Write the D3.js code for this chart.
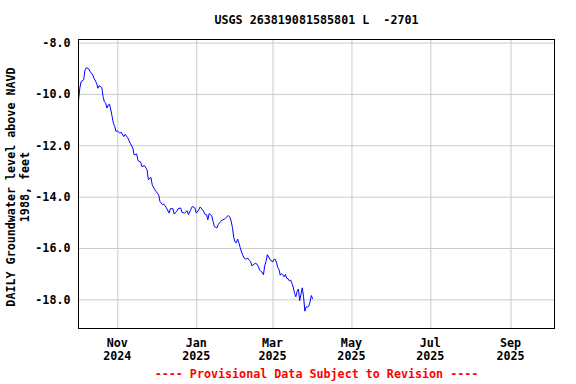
<!DOCTYPE html>
<html>
<head>
<meta charset="utf-8">
<script src="https://cdn.jsdelivr.net/npm/d3@7"></script>
<style>
  html, body { margin: 0; padding: 0; background: #fff; }
  svg { display: block; }
  text { font-family: "DejaVu Sans Mono", "Liberation Mono", monospace; font-weight: bold; white-space: pre; }
</style>
</head>
<body>
<svg id="chart" width="576" height="384"></svg>
<script>
const title = "USGS 263819081585801 L  -2701";
const yLabelLines = ["DAILY Groundwater level above NAVD", "1988, feet"];
const footer = "---- Provisional Data Subject to Revision ----";

const xDomain = ["2024-10-02", "2025-10-05"];
const yDomain = [-19.135, -7.88];
const yTicks = [-8, -10, -12, -14, -16, -18];
const xTicks = ["2024-11-01", "2025-01-01", "2025-03-01", "2025-05-01", "2025-07-01", "2025-09-01"];
const xTickMonths = ["Nov", "Jan", "Mar", "May", "Jul", "Sep"];
const xTickYears = ["2024", "2025", "2025", "2025", "2025", "2025"];

const dates = [
"2024-10-02","2024-10-03","2024-10-04","2024-10-06","2024-10-07","2024-10-08","2024-10-10","2024-10-11",
"2024-10-13","2024-10-14","2024-10-16","2024-10-17","2024-10-18","2024-10-20","2024-10-21","2024-10-22",
"2024-10-23","2024-10-24","2024-10-25","2024-10-26","2024-10-27","2024-10-28","2024-10-29","2024-10-30",
"2024-10-31","2024-11-01","2024-11-03","2024-11-04","2024-11-06","2024-11-07","2024-11-09","2024-11-11",
"2024-11-13","2024-11-14","2024-11-16","2024-11-17","2024-11-19","2024-11-20","2024-11-22","2024-11-24",
"2024-11-25","2024-11-27","2024-11-28","2024-11-30","2024-12-01","2024-12-03","2024-12-04","2024-12-06",
"2024-12-07","2024-12-09","2024-12-11","2024-12-12","2024-12-14","2024-12-15","2024-12-17","2024-12-18",
"2024-12-20","2024-12-21","2024-12-23","2024-12-25","2024-12-26","2024-12-28","2024-12-29","2024-12-31",
"2025-01-01","2025-01-03","2025-01-04","2025-01-06","2025-01-08","2025-01-09","2025-01-10","2025-01-11",
"2025-01-13","2025-01-14","2025-01-15","2025-01-17","2025-01-18","2025-01-20","2025-01-21","2025-01-23",
"2025-01-25","2025-01-26","2025-01-27","2025-01-28","2025-01-29","2025-01-30","2025-01-31","2025-02-01",
"2025-02-02","2025-02-03","2025-02-04","2025-02-05","2025-02-06","2025-02-07","2025-02-08","2025-02-09",
"2025-02-10","2025-02-11","2025-02-12","2025-02-13","2025-02-14","2025-02-15","2025-02-16","2025-02-17",
"2025-02-18","2025-02-19","2025-02-20","2025-02-21","2025-02-22","2025-02-23","2025-02-24","2025-02-25",
"2025-02-26","2025-02-27","2025-02-28","2025-03-01","2025-03-02","2025-03-03","2025-03-04","2025-03-05",
"2025-03-06","2025-03-07","2025-03-08","2025-03-09","2025-03-10","2025-03-11","2025-03-12","2025-03-13",
"2025-03-14","2025-03-15","2025-03-16","2025-03-17","2025-03-18","2025-03-19","2025-03-20","2025-03-21",
"2025-03-22","2025-03-23","2025-03-24","2025-03-25","2025-03-26","2025-03-27","2025-03-28","2025-03-29",
"2025-03-30","2025-03-31","2025-04-01"
];
const levels = [
-10.27,-9.78,-9.52,-9.45,-9.07,-8.98,-9.03,-9.13,
-9.26,-9.39,-9.58,-9.78,-9.68,-9.75,-10.10,-10.30,
-10.36,-10.55,-10.43,-10.40,-10.62,-10.88,-11.14,-11.27,
-11.46,-11.44,-11.53,-11.49,-11.66,-11.57,-11.70,-11.92,
-12.11,-12.37,-12.34,-12.60,-12.65,-12.83,-12.79,-12.95,
-13.34,-13.25,-13.54,-13.73,-13.80,-13.93,-14.19,-14.31,
-14.29,-14.44,-14.64,-14.47,-14.47,-14.68,-14.57,-14.47,
-14.44,-14.61,-14.64,-14.55,-14.70,-14.48,-14.38,-14.44,
-14.64,-14.51,-14.40,-14.51,-14.70,-14.70,-14.90,-14.66,
-14.74,-14.96,-15.16,-15.22,-15.09,-14.96,-14.92,-14.87,
-14.77,-14.74,-14.80,-14.95,-15.20,-15.58,-15.76,-15.80,
-15.65,-15.80,-15.98,-16.15,-16.28,-16.39,-16.43,-16.42,
-16.40,-16.48,-16.52,-16.69,-16.66,-16.62,-16.60,-16.63,
-16.71,-16.85,-16.91,-16.94,-17.04,-16.68,-16.52,-16.26,
-16.35,-16.45,-16.48,-16.55,-16.45,-16.43,-16.55,-16.75,
-16.84,-17.06,-17.00,-17.04,-17.12,-17.03,-17.18,-17.20,
-17.28,-17.25,-17.38,-17.52,-17.76,-17.90,-17.69,-17.60,
-18.05,-17.80,-17.55,-17.90,-18.46,-18.29,-18.30,-18.27,
-18.10,-17.85,-17.98
];

const parse = d3.utcParse("%Y-%m-%d");
const data = dates.map((d, i) => ({ date: parse(d), value: levels[i] }));

const pLeft = 78.5, pRight = 554.5, pTop = 39.5, pBottom = 328.5;
const fs = "11.7px";

const x = d3.scaleUtc().domain(xDomain.map(parse)).range([pLeft, pRight]);
const y = d3.scaleLinear().domain(yDomain).range([pBottom, pTop]);

const svg = d3.select("#chart");

// gridlines
const gx = svg.append("g").attr("transform", `translate(0,${pBottom})`)
  .call(d3.axisBottom(x).tickValues(xTicks.map(parse)).tickSize(-(pBottom - pTop)).tickFormat(""));
gx.select(".domain").remove();
gx.selectAll("line").attr("stroke", "#cccccc").attr("stroke-width", 1);

const gy = svg.append("g").attr("transform", `translate(${pLeft},0)`)
  .call(d3.axisLeft(y).tickValues(yTicks).tickSize(-(pRight - pLeft)).tickFormat(d3.format(".1f")).tickPadding(8));
gy.select(".domain").remove();
gy.selectAll("line").attr("stroke", "#cccccc").attr("stroke-width", 1);
gy.selectAll("text").attr("font-size", fs).attr("fill", "#000")
  .attr("font-family", "'DejaVu Sans Mono', monospace").attr("font-weight", "bold")
  .text(d => d3.format(".1f")(d).replace("−", "-"));

// x tick labels (two lines)
const xl = svg.append("g");
xTicks.forEach((t, i) => {
  const tx = x(parse(t));
  xl.append("text").attr("x", tx).attr("y", 347).attr("text-anchor", "middle")
    .attr("font-size", fs).attr("fill", "#000").text(xTickMonths[i]);
  xl.append("text").attr("x", tx).attr("y", 360).attr("text-anchor", "middle")
    .attr("font-size", fs).attr("fill", "#000").text(xTickYears[i]);
});

// data line
const clipId = "plotclip";
svg.append("clipPath").attr("id", clipId).append("rect")
  .attr("x", pLeft).attr("y", pTop).attr("width", pRight - pLeft).attr("height", pBottom - pTop);
svg.append("path").datum(data)
  .attr("clip-path", `url(#${clipId})`)
  .attr("fill", "none").attr("stroke", "#0000ff").attr("stroke-width", 1)
  .attr("d", d3.line().x(d => x(d.date)).y(d => y(d.value)));

// frame
svg.append("rect").attr("x", pLeft).attr("y", pTop).attr("width", pRight - pLeft).attr("height", pBottom - pTop)
  .attr("fill", "none").attr("stroke", "#000").attr("stroke-width", 1);

// title
svg.append("text").attr("x", (pLeft + pRight) / 2).attr("y", 23.5).attr("text-anchor", "middle")
  .attr("xml:space", "preserve")
  .attr("font-size", fs).attr("fill", "#000").text(title);

// y label
const yl = svg.append("text").attr("transform", `translate(15,187) rotate(-90)`)
  .attr("text-anchor", "middle").attr("font-size", fs).attr("fill", "#000");
yl.append("tspan").attr("x", 0).attr("dy", 0).text(yLabelLines[0]);
yl.append("tspan").attr("x", 0).attr("dy", 14).text(yLabelLines[1]);

// footer
svg.append("text").attr("x", (pLeft + pRight) / 2).attr("y", 378).attr("text-anchor", "middle")
  .attr("font-size", fs).attr("fill", "#ff0000").text(footer);
</script>
</body>
</html>
